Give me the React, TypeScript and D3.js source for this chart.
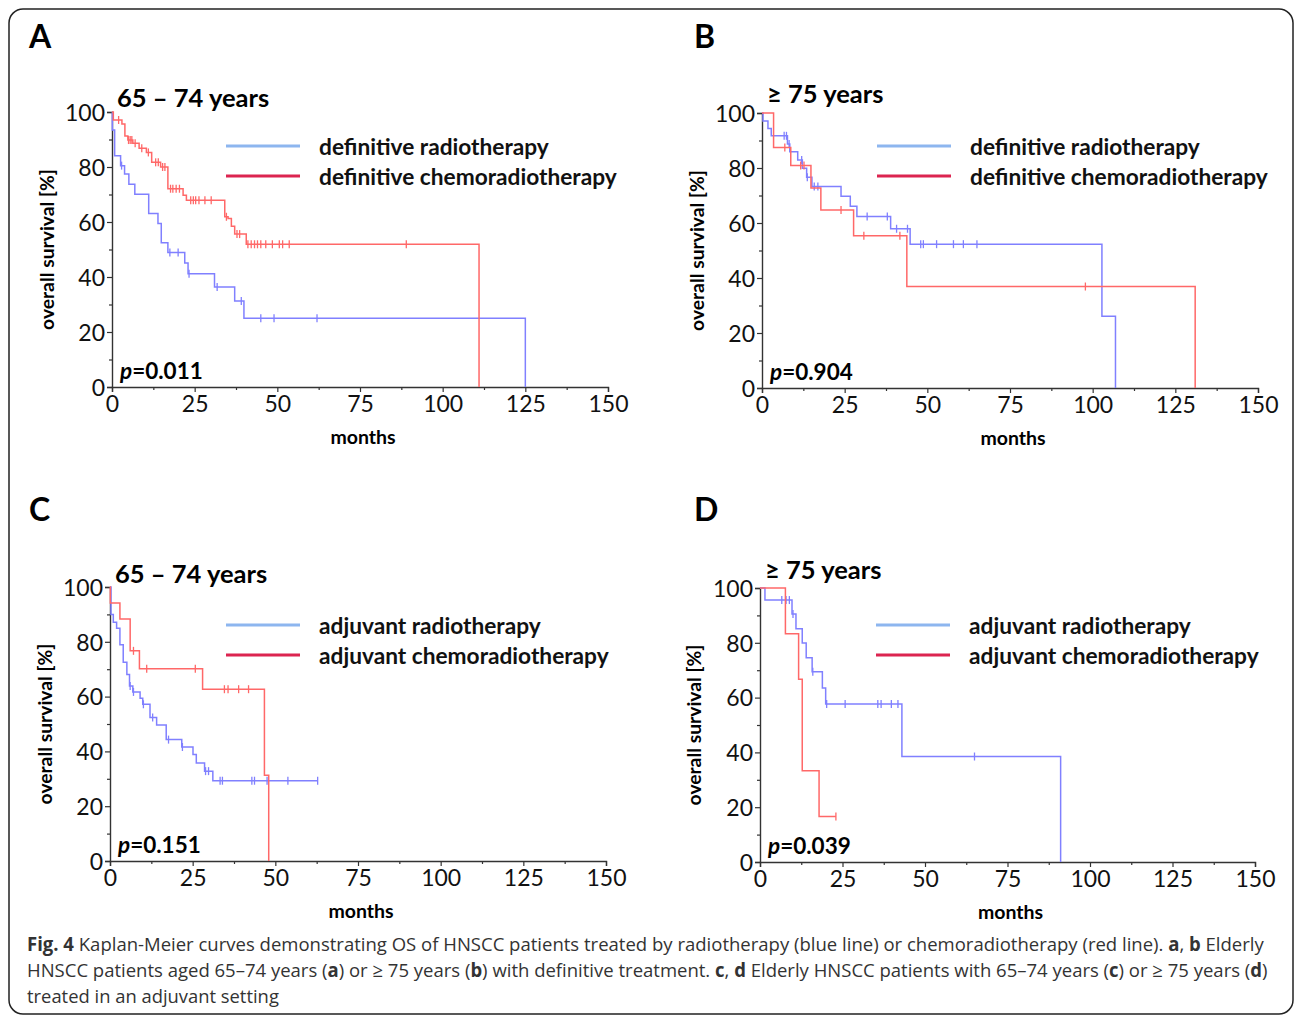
import React, { useEffect, useRef } from 'react';
import * as d3 from 'd3';

// axis ticks
const monthTicks = [0, 25, 50, 75, 100, 125, 150];
const monthMinorTicks = [12.5, 37.5, 62.5, 87.5, 112.5, 137.5];
const survivalTicks = [0, 20, 40, 60, 80, 100];
const survivalMinorTicks = [10, 30, 50, 70, 90];

// A: definitive, 65-74 years  [month, survival % after the event]
const defRadio6574Steps: [number, number][] = [
  [0.1, 93.5], [0.8, 84.1], [2.6, 80.5], [3.8, 77.5], [5.1, 73.7], [6.9, 70.1], [11.1, 63.1],
  [13.9, 59.5], [14.9, 52.5], [16.9, 48.9], [22.0, 45.1], [23.0, 41.2], [31.0, 36.4],
  [37.1, 31.3], [39.9, 25.0], [125.0, 0],
];
const defRadio6574Censors = [2.9, 17.5, 20.0, 23.3, 31.8, 39.1, 45.0, 49.0, 62.0];
const defChemo6574Steps: [number, number][] = [
  [0.4, 97.1], [3.0, 95.6], [3.9, 91.3], [4.8, 89.8], [6.3, 88.6], [8.2, 86.8], [10.4, 85.3],
  [12.0, 81.7], [14.7, 80.0], [16.9, 72.1], [21.5, 69.7], [22.5, 67.9], [34.1, 61.9],
  [35.1, 61.3], [36.1, 58.5], [37.1, 55.6], [40.6, 51.9], [111.0, 0],
];
const defChemo6574Censors = [
  2.0, 5.0, 5.5, 6.0, 7.0, 9.0, 11.0, 13.2, 14.0, 15.3, 16.0, 17.7, 18.4, 19.4, 20.4, 23.8,
  24.6, 25.3, 26.3, 28.1, 30.0, 34.6, 37.8, 38.6, 41.1, 42.1, 43.1, 44.0, 45.0, 46.5, 48.5,
  50.6, 51.6, 53.6, 89.0,
];

// B: definitive, >= 75 years
const defRadio75Steps: [number, number][] = [
  [0.3, 97.1], [1.8, 94.4], [2.8, 91.7], [7.7, 88.7], [8.4, 85.9], [10.8, 82.9], [12.2, 79.9],
  [13.5, 76.6], [15.1, 73.3], [23.9, 69.7], [26.7, 66.1], [28.7, 62.4], [38.9, 57.9],
  [44.8, 52.3], [102.8, 26.1], [106.9, 0],
];
const defRadio75Censors = [6.7, 7.4, 8.2, 12.0, 13.7, 15.8, 16.9, 31.8, 37.9, 40.7, 44.0, 48.0, 48.8, 52.8, 57.9, 60.9, 65.0];
const defChemo75Steps: [number, number][] = [
  [3.5, 87.5], [8.7, 80.9], [14.8, 72.7], [17.8, 64.7], [27.7, 55.4], [43.8, 36.9], [131.0, 0],
];
const defChemo75Censors = [6.9, 11.7, 12.7, 23.9, 30.8, 41.7, 97.8];

// C: adjuvant, 65-74 years
const adjRadio6574Steps: [number, number][] = [
  [0.3, 90.0], [1.0, 87.1], [2.0, 84.9], [3.0, 78.9], [4.0, 72.5], [5.1, 68.1], [5.9, 63.9],
  [6.9, 61.7], [9.1, 59.4], [9.9, 57.2], [12.1, 52.4], [14.1, 49.6], [17.0, 44.3],
  [21.7, 41.6], [25.1, 38.9], [26.1, 35.8], [28.6, 32.8], [31.1, 29.3],
];
const adjRadio6574Censors = [6.1, 7.1, 10.1, 12.9, 17.7, 21.9, 28.9, 29.8, 33.3, 34.0, 42.9, 43.7, 47.5, 53.8, 62.8];
const adjChemo6574Steps: [number, number][] = [
  [0.1, 94.2], [3.0, 88.3], [6.1, 76.7], [8.9, 70.2], [28.0, 62.7], [46.7, 31.3], [48.0, 0],
];
const adjChemo6574Censors = [7.1, 11.1, 25.8, 34.6, 35.7, 38.9, 41.9];

// D: adjuvant, >= 75 years
const adjRadio75Steps: [number, number][] = [
  [1.5, 95.6], [9.7, 90.5], [10.9, 85.1], [12.8, 79.9], [14.0, 74.5], [15.8, 69.4],
  [18.9, 63.5], [19.9, 57.7], [43.0, 38.5], [91.1, 0],
];
const adjRadio75Censors = [6.6, 7.9, 8.9, 10.0, 16.0, 20.2, 25.8, 35.7, 36.7, 39.8, 41.8, 65.0];
const adjChemo75Steps: [number, number][] = [[7.7, 83.3], [11.7, 66.7], [12.8, 33.3], [17.9, 16.6]];
const adjChemo75Censors = [23.0];

const FONT = "Lato, 'Open Sans', sans-serif";
const BLUE_CURVE = '#8080ff';
const RED_CURVE = '#ff6868';
const BLUE_LEGEND = '#8db6ef';
const RED_LEGEND = '#dc2450';

interface Series { steps: [number, number][]; censors: number[]; color: string }
interface PanelDef {
  letter: string; title: string; pValue: string; legend: [string, string];
  blue: Series; red: Series;
  left: number; right: number; top: number; bottom: number;
  letterX: number; letterY: number; titleY: number; legendX: number; legendY: number; yLabelX: number;
}

const panels: PanelDef[] = [
  {
    letter: 'A', title: '65 – 74 years', pValue: '0.011',
    legend: ['definitive radiotherapy', 'definitive chemoradiotherapy'],
    blue: { steps: defRadio6574Steps, censors: defRadio6574Censors, color: BLUE_CURVE },
    red: { steps: defChemo6574Steps, censors: defChemo6574Censors, color: RED_CURVE },
    left: 112, right: 608, top: 112, bottom: 387,
    letterX: 29, letterY: 48, titleY: 107, legendX: 226, legendY: 146, yLabelX: 54,
  },
  {
    letter: 'B', title: '≥ 75 years', pValue: '0.904',
    legend: ['definitive radiotherapy', 'definitive chemoradiotherapy'],
    blue: { steps: defRadio75Steps, censors: defRadio75Censors, color: BLUE_CURVE },
    red: { steps: defChemo75Steps, censors: defChemo75Censors, color: RED_CURVE },
    left: 762, right: 1258, top: 113, bottom: 388,
    letterX: 694, letterY: 48, titleY: 103, legendX: 877, legendY: 146, yLabelX: 704,
  },
  {
    letter: 'C', title: '65 – 74 years', pValue: '0.151',
    legend: ['adjuvant radiotherapy', 'adjuvant chemoradiotherapy'],
    blue: { steps: adjRadio6574Steps, censors: adjRadio6574Censors, color: BLUE_CURVE },
    red: { steps: adjChemo6574Steps, censors: adjChemo6574Censors, color: RED_CURVE },
    left: 110, right: 606, top: 587, bottom: 861,
    letterX: 29, letterY: 521, titleY: 583, legendX: 226, legendY: 625, yLabelX: 52,
  },
  {
    letter: 'D', title: '≥ 75 years', pValue: '0.039',
    legend: ['adjuvant radiotherapy', 'adjuvant chemoradiotherapy'],
    blue: { steps: adjRadio75Steps, censors: adjRadio75Censors, color: BLUE_CURVE },
    red: { steps: adjChemo75Steps, censors: adjChemo75Censors, color: RED_CURVE },
    left: 760, right: 1255, top: 588, bottom: 862,
    letterX: 694, letterY: 521, titleY: 579, legendX: 876, legendY: 625, yLabelX: 701,
  },
];

function survivalAt(steps: [number, number][], t: number) {
  let s = 100;
  steps.forEach(([st, sv]) => { if (st <= t) s = sv; });
  return s;
}

function drawPanel(svg: d3.Selection<SVGSVGElement, unknown, null, undefined>, p: PanelDef) {
  const x = d3.scaleLinear().domain([0, 150]).range([p.left, p.right]);
  const y = d3.scaleLinear().domain([0, 100]).range([p.bottom, p.top]);
  const g = svg.append('g');

  // axes
  const yAxis = g.append('g').attr('transform', `translate(${p.left},0)`)
    .call(d3.axisLeft(y).tickValues(survivalTicks).tickSize(5).tickPadding(2).tickFormat(d3.format('d')));
  g.append('g').attr('transform', `translate(${p.left},0)`)
    .call(d3.axisLeft(y).tickValues(survivalMinorTicks).tickSize(3).tickFormat(() => ''))
    .select('.domain').remove();
  const xAxis = g.append('g').attr('transform', `translate(0,${p.bottom})`)
    .call(d3.axisBottom(x).tickValues(monthTicks).tickSize(5).tickPadding(4).tickFormat(d3.format('d')));
  g.append('g').attr('transform', `translate(0,${p.bottom})`)
    .call(d3.axisBottom(x).tickValues(monthMinorTicks).tickSize(3).tickFormat(() => ''))
    .select('.domain').remove();
  g.selectAll('.domain').attr('stroke', '#333').attr('stroke-width', 1.4);
  g.selectAll('.tick line').attr('stroke', '#333').attr('stroke-width', 1.2);
  [yAxis, xAxis].forEach(a => a.selectAll('.tick text')
    .attr('font-family', FONT).attr('font-size', 23).attr('fill', '#111'));
  yAxis.selectAll('.tick text').attr('dy', '0.36em');

  // curves
  const line = d3.line<[number, number]>().x(d => x(d[0])).y(d => y(d[1])).curve(d3.curveStepAfter);
  [p.blue, p.red].forEach(s => {
    const last = s.steps[s.steps.length - 1];
    const end = Math.max(last[0], d3.max(s.censors) ?? 0);
    const pts: [number, number][] = [[0, 100], ...s.steps];
    if (end > last[0]) pts.push([end, last[1]]);
    g.append('path').attr('d', line(pts)).attr('fill', 'none')
      .attr('stroke', s.color).attr('stroke-width', 1.5);
    g.selectAll(null).data(s.censors).enter().append('line')
      .attr('x1', d => x(d)).attr('x2', d => x(d))
      .attr('y1', d => y(survivalAt(s.steps, d)) - 4)
      .attr('y2', d => y(survivalAt(s.steps, d)) + 4)
      .attr('stroke', s.color).attr('stroke-width', 1.3);
  });

  // legend
  [BLUE_LEGEND, RED_LEGEND].forEach((c, i) => {
    g.append('line').attr('x1', p.legendX).attr('x2', p.legendX + 74)
      .attr('y1', p.legendY + i * 30).attr('y2', p.legendY + i * 30)
      .attr('stroke', c).attr('stroke-width', 3);
    g.append('text').attr('x', p.legendX + 93).attr('y', p.legendY + i * 30 + 9)
      .attr('font-family', FONT).attr('font-weight', 'bold').attr('font-size', 22.7)
      .attr('fill', '#111').text(p.legend[i]);
  });

  // labels
  g.append('text').attr('x', p.letterX).attr('y', p.letterY)
    .attr('font-family', FONT).attr('font-weight', 'bold').attr('font-size', 32).text(p.letter);
  g.append('text').attr('x', p.left + 5).attr('y', p.titleY)
    .attr('font-family', FONT).attr('font-weight', 'bold').attr('font-size', 25.5).text(p.title);
  const pt = g.append('text').attr('x', p.left + 8).attr('y', p.bottom - 8)
    .attr('font-family', FONT).attr('font-weight', 'bold').attr('font-size', 22.5);
  pt.append('tspan').attr('font-style', 'italic').text('p');
  pt.append('tspan').text('=' + p.pValue);
  g.append('text').attr('x', (p.left + p.right) / 2 + 3).attr('y', p.bottom + 57)
    .attr('text-anchor', 'middle').attr('font-family', FONT).attr('font-weight', 'bold')
    .attr('font-size', 19.5).text('months');
  g.append('text').attr('transform', `translate(${p.yLabelX},${(p.top + p.bottom) / 2}) rotate(-90)`)
    .attr('text-anchor', 'middle').attr('font-family', FONT).attr('font-weight', 'bold')
    .attr('font-size', 19.3).text('overall survival [%]');
}

// squeeze a caption line horizontally so it spans the given width
function fitLine(t: d3.Selection<SVGTextElement, unknown, null, undefined>, x: number, y: number, w: number) {
  const node = t.node();
  if (!node) return;
  const k = w / node.getComputedTextLength();
  t.attr('transform', `translate(${x},${y}) scale(${k},1)`);
}

export default function App() {
  const svgRef = useRef<SVGSVGElement>(null);

  useEffect(() => {
    if (!svgRef.current) return;
    const svg = d3.select(svgRef.current);
    svg.selectAll('*').remove();

    svg.append('rect').attr('x', 9).attr('y', 9).attr('width', 1284).attr('height', 1005)
      .attr('rx', 14).attr('fill', '#fff').attr('stroke', '#222').attr('stroke-width', 1.5);

    panels.forEach(p => drawPanel(svg, p));

    // caption
    const cap = svg.append('g').attr('font-family', "'Open Sans', sans-serif").attr('font-size', 19).attr('fill', '#333');
    const l1 = cap.append('text') as d3.Selection<SVGTextElement, unknown, null, undefined>;
    l1.append('tspan').attr('font-weight', 'bold').text('Fig. 4');
    l1.append('tspan').text(' Kaplan-Meier curves demonstrating OS of HNSCC patients treated by radiotherapy (blue line) or chemoradiotherapy (red line). ');
    l1.append('tspan').attr('font-weight', 'bold').text('a');
    l1.append('tspan').text(', ');
    l1.append('tspan').attr('font-weight', 'bold').text('b');
    l1.append('tspan').text(' Elderly');
    fitLine(l1, 27, 951, 1238);
    const l2 = cap.append('text') as d3.Selection<SVGTextElement, unknown, null, undefined>;
    l2.append('tspan').text('HNSCC patients aged 65–74 years (');
    l2.append('tspan').attr('font-weight', 'bold').text('a');
    l2.append('tspan').text(') or ≥ 75 years (');
    l2.append('tspan').attr('font-weight', 'bold').text('b');
    l2.append('tspan').text(') with definitive treatment. ');
    l2.append('tspan').attr('font-weight', 'bold').text('c');
    l2.append('tspan').text(', ');
    l2.append('tspan').attr('font-weight', 'bold').text('d');
    l2.append('tspan').text(' Elderly HNSCC patients with 65–74 years (');
    l2.append('tspan').attr('font-weight', 'bold').text('c');
    l2.append('tspan').text(') or ≥ 75 years (');
    l2.append('tspan').attr('font-weight', 'bold').text('d');
    l2.append('tspan').text(')');
    fitLine(l2, 27, 977, 1241);
    const l3 = cap.append('text').text('treated in an adjuvant setting') as d3.Selection<SVGTextElement, unknown, null, undefined>;
    fitLine(l3, 27, 1003, 252);
  }, []);

  return (
    <svg ref={svgRef} width={1295} height={1017}
      style={{ position: 'absolute', left: 0, top: 0, background: '#fff' }} />
  );
}
